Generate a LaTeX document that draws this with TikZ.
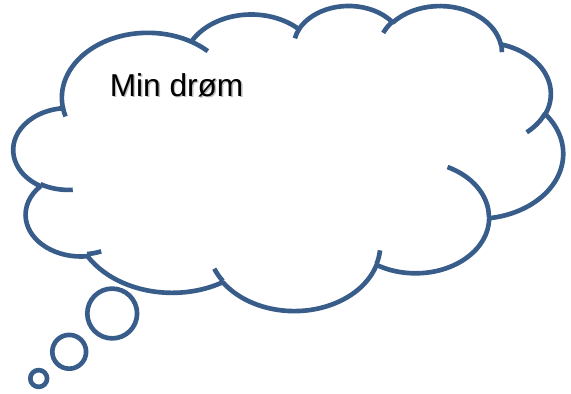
\documentclass[tikz,border=0pt]{standalone}
\usepackage{fontspec}
\setmainfont{Liberation Sans}
\definecolor{cloudblue}{HTML}{385D8A}
% convert an OOXML arcTo (visual angles) into parametric TikZ angles
\newcommand\ooprep[5]{%
  \pgfmathsetmacro\ootA{#4}%
  \pgfmathsetmacro\ootB{#4+#5}%
  \pgfmathsetmacro\ootD{atan2((#2)*sin(\ootA),(#3)*cos(\ootA))-\ootA}%
  \pgfmathsetmacro\ootD{\ootD-360*round(\ootD/360)}%
  \pgfmathsetmacro\ootS{\ootA+\ootD}%
  \pgfmathsetmacro\ootD{atan2((#2)*sin(\ootB),(#3)*cos(\ootB))-\ootB}%
  \pgfmathsetmacro\ootD{\ootD-360*round(\ootD/360)}%
  \pgfmathsetmacro\ootE{\ootB+\ootD}%
  \expandafter\let\csname oo#1s\endcsname\ootS
  \expandafter\let\csname oo#1e\endcsname\ootE
}
\tikzset{
  cloudline/.style={draw=cloudblue, line width=3.3pt, line join=round, line cap=butt},
  titletext/.style={anchor=base west, inner sep=0pt, font=\fontsize{22.5}{27}\selectfont}
}
\begin{document}
\begin{tikzpicture}[xscale=0.025, yscale=-0.025]
\useasboundingbox (0,0) rectangle (571,394);
\fill[white] (0,0) rectangle (571,394);
\begin{scope}[shift={(13,5)}, xscale=550/43.2, yscale=305/43.2]
  \ooprep{A}{6.753}{9.19}{-190.48748}{123.78053}
  \ooprep{B}{5.333}{7.267}{-144.10238}{89.94523}
  \ooprep{C}{4.365}{5.945}{-145.80792}{99.72302}
  \ooprep{D}{4.857}{6.595}{-130.98607}{117.24173}
  \ooprep{E}{5.333}{7.273}{-78.70888}{109.02692}
  \ooprep{F}{6.775}{9.22}{-46.26725}{130.269}
  \ooprep{G}{5.785}{7.867}{0.62502}{114.03333}
  \ooprep{H}{6.752}{9.215}{22.4516}{115.17255}
  \ooprep{I}{7.72}{10.543}{66.24263}{74.89187}
  \ooprep{J}{4.36}{5.918}{-274.94208}{146.73557}
  \ooprep{K}{4.345}{5.945}{-246.8285}{152.51885}
  \filldraw[cloudline, fill=white] (3.9,14.37)
    arc[x radius=6.753, y radius=9.19,  start angle=\ooAs, end angle=\ooAe]
    arc[x radius=5.333, y radius=7.267, start angle=\ooBs, end angle=\ooBe]
    arc[x radius=4.365, y radius=5.945, start angle=\ooCs, end angle=\ooCe]
    arc[x radius=4.857, y radius=6.595, start angle=\ooDs, end angle=\ooDe]
    arc[x radius=5.333, y radius=7.273, start angle=\ooEs, end angle=\ooEe]
    arc[x radius=6.775, y radius=9.22,  start angle=\ooFs, end angle=\ooFe]
    arc[x radius=5.785, y radius=7.867, start angle=\ooGs, end angle=\ooGe]
    arc[x radius=6.752, y radius=9.215, start angle=\ooHs, end angle=\ooHe]
    arc[x radius=7.72,  y radius=10.543,start angle=\ooIs, end angle=\ooIe]
    arc[x radius=4.36,  y radius=5.918, start angle=\ooJs, end angle=\ooJe]
    arc[x radius=4.345, y radius=5.945, start angle=\ooKs, end angle=\ooKe]
    -- cycle;
  % inner detail arcs
  \ooprep{a}{4.345}{5.945}{86.742}{26.4295}
  \ooprep{b}{4.36}{5.918}{73.61047}{11.44747}
  \ooprep{c}{6.752}{9.215}{137.62415}{14.0811}
  \ooprep{d}{6.752}{9.215}{6.45327}{15.99835}
  \ooprep{e}{5.785}{7.867}{-70.29235}{70.91737}
  \ooprep{f}{5.333}{7.273}{30.31803}{27.7515}
  \ooprep{g}{4.857}{6.595}{-13.74433}{14.8589}
  \ooprep{h}{4.857}{6.595}{-149.18145}{18.19537}
  \ooprep{i}{4.365}{5.945}{-163.49427}{17.68635}
  \ooprep{j}{6.753}{9.19}{-66.70695}{12.31935}
  \ooprep{k}{6.753}{9.19}{157.65435}{11.85817}
  \draw[cloudline] (4.693,26.177) arc[x radius=4.345, y radius=5.945, start angle=\ooas, end angle=\ooae];
  \draw[cloudline] (6.928,34.899) arc[x radius=4.36, y radius=5.918, start angle=\oobs, end angle=\oobe];
  \draw[cloudline] (16.478,39.09) arc[x radius=6.752, y radius=9.215, start angle=\oocs, end angle=\ooce];
  \draw[cloudline] (28.827,34.751) arc[x radius=6.752, y radius=9.215, start angle=\oods, end angle=\oode];
  \draw[cloudline] (34.129,22.954) arc[x radius=5.785, y radius=7.867, start angle=\ooes, end angle=\ooee];
  \draw[cloudline] (41.798,15.354) arc[x radius=5.333, y radius=7.273, start angle=\oofs, end angle=\oofe];
  \draw[cloudline] (38.324,5.426) arc[x radius=4.857, y radius=6.595, start angle=\oogs, end angle=\ooge];
  \draw[cloudline] (29.078,3.952) arc[x radius=4.857, y radius=6.595, start angle=\oohs, end angle=\oohe];
  \draw[cloudline] (22.141,4.72) arc[x radius=4.365, y radius=5.945, start angle=\oois, end angle=\ooie];
  \draw[cloudline] (14.0,5.192) arc[x radius=6.753, y radius=9.19, start angle=\oojs, end angle=\ooje];
  \draw[cloudline] (4.127,15.789) arc[x radius=6.753, y radius=9.19, start angle=\ooks, end angle=\ooke];
\end{scope}
% thought bubbles
\filldraw[cloudline, fill=white] (112.2,313.5) circle[radius=24.9];
\filldraw[cloudline, fill=white] (69.2,351.8) circle[radius=16.9];
\filldraw[cloudline, fill=white] (38.7,378.5) circle[radius=8.4];
% text
\node[titletext, text=black!60, opacity=0.45] (titleshadow) at (110.9,98.0) {Min drøm};
\node[titletext] (title) at (109.5,96.7) {Min drøm};
\end{tikzpicture}
\end{document}
